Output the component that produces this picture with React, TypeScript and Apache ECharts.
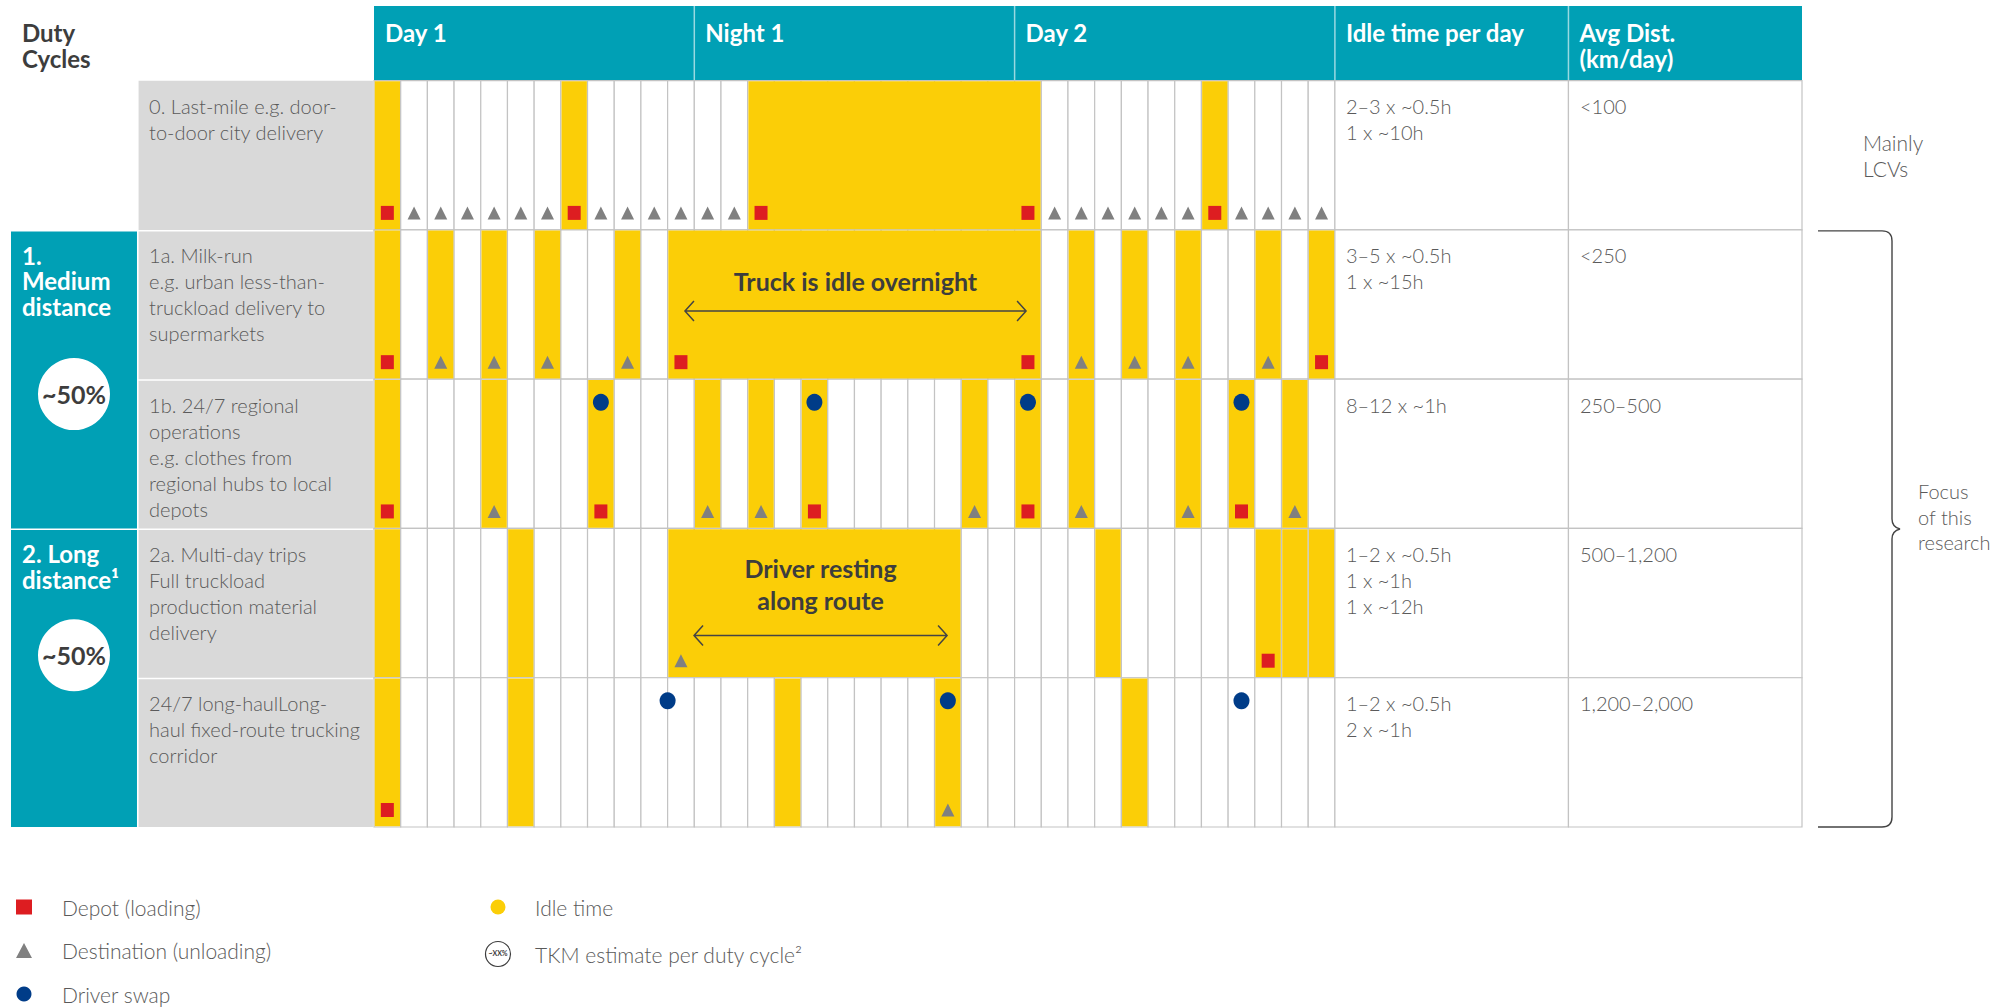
import React, { useEffect, useRef } from "react";
import * as echarts from "echarts";

// ---------- data ----------
const periods = ["Day 1", "Night 1", "Day 2"];
const hoursPerPeriod = 12;
const extraHeaders = ["Idle time per day", "Avg Dist.\n(km/day)"];
const cornerTitle = "Duty\nCycles";

const rowLabels = [
  "0. Last-mile e.g. door-\nto-door city delivery",
  "1a. Milk-run\ne.g. urban less-than-\ntruckload delivery to\nsupermarkets",
  "1b. 24/7 regional\noperations\ne.g. clothes from\nregional hubs to local\ndepots",
  "2a. Multi-day trips\nFull truckload\nproduction material\ndelivery",
  "24/7 long-haulLong-\nhaul fixed-route trucking\ncorridor",
];
const idleTimes = [
  "2–3 x ~0.5h\n1 x ~10h",
  "3–5 x ~0.5h\n1 x ~15h",
  "8–12 x ~1h",
  "1–2 x ~0.5h\n1 x ~1h\n1 x ~12h",
  "1–2 x ~0.5h\n2 x ~1h",
];
const avgDist = ["<100", "<250", "250–500", "500–1,200", "1,200–2,000"];

const groupLabels = ["1.\nMedium\ndistance", "2. Long\ndistance¹"];
const groupRows = [[1, 3], [3, 5]];
const groupShares = ["~50%", "~50%"];

// idle periods per row: [startHour, endHour]
const idleRow0 = [[0, 1], [7, 8], [14, 25], [31, 32]];
const idleRow1a = [[0, 1], [2, 3], [4, 5], [6, 7], [9, 10], [11, 25], [26, 27], [28, 29], [30, 31], [33, 34], [35, 36]];
const idleRow1b = [[0, 1], [4, 5], [8, 9], [12, 13], [14, 15], [16, 17], [22, 23], [24, 25], [26, 27], [30, 31], [32, 33], [34, 35]];
const idleRow2a = [[0, 1], [5, 6], [11, 22], [27, 28], [33, 34], [34, 35], [35, 36]];
const idleRow2b = [[0, 1], [5, 6], [15, 16], [21, 22], [28, 29]];
const idleRows = [idleRow0, idleRow1a, idleRow1b, idleRow2a, idleRow2b];

// events per row: hour slot index
const depotRows = [[0, 7, 14, 24, 31], [0, 11, 24, 35], [0, 8, 16, 24, 32], [33], [0]];
const destRows = [
  [1, 2, 3, 4, 5, 6, 8, 9, 10, 11, 12, 13, 25, 26, 27, 28, 29, 30, 32, 33, 34, 35],
  [2, 4, 6, 9, 26, 28, 30, 33],
  [4, 12, 14, 22, 26, 30, 34],
  [11],
  [21],
];
const swapRows = [[], [], [8, 16, 24, 32], [], [10.5, 21, 32]];

const annotationTexts = ["Truck is idle overnight", "Driver resting\nalong route"];
const annotationRows = [1, 3];
const annotationArrows = [[11.65, 24.43], [11.99, 21.47]];

// ---------- layout / style ----------
const FONT = "Lato, 'Noto Sans', sans-serif";
const TEAL = "#00a0b5";
const YELLOW = "#fbce07";
const RED = "#dd1d21";
const GREY_MARK = "#808080";
const BLUE = "#003c88";
const TEXT = "#5a5a5a";
const DARK = "#3d3d3d";
const LINE = "#c3c3c3";
const HOURS = periods.length * hoursPerPeriod;
const X_MIN = -13.6;
const X_MAX = 53.5;
const IDLE_X1 = 44.75;
const GROUP_X1 = -8.88;
const LABEL_X0 = -8.82;
const LABEL_X1 = -0.04;
const TOP_FRAC = 0.155;
const BOTTOM_FRAC = 0.886;
const tkmRowPos = [2.1, 3.85];
const annotationLayout = [
  { textY: 51, arrowY: 81, lineHeight: 30 },
  { textY: 40, arrowY: 107, lineHeight: 32 },
];

const svgIcon = (svg: string) => "image://data:image/svg+xml;charset=utf-8," + encodeURIComponent(svg);
const idleIcon = svgIcon(
  `<svg xmlns="http://www.w3.org/2000/svg" width="28" height="28" viewBox="0 0 28 28"><circle cx="14" cy="14" r="7.5" fill="${YELLOW}"/></svg>`
);
const tkmIcon = svgIcon(
  `<svg xmlns="http://www.w3.org/2000/svg" width="28" height="28" viewBox="0 0 28 28"><circle cx="14" cy="14" r="12.5" fill="#fff" stroke="#3c3c3c" stroke-width="1.2"/><text x="14" y="16.3" font-size="7" font-weight="bold" text-anchor="middle" font-family="Lato, sans-serif" fill="#3c3c3c">~XX%</text></svg>`
);

function markerData(rows: number[][], frac: number) {
  const out: number[][] = [];
  rows.forEach((cols, r) => cols.forEach((c) => out.push([c + 0.5, r + frac])));
  return out;
}

function rectBetween(api: any, x0: number, y0: number, x1: number, y1: number) {
  const a = api.coord([x0, y0]);
  const b = api.coord([x1, y1]);
  return { x: a[0], y: a[1], width: b[0] - a[0], height: b[1] - a[1] };
}

const bodyText = (text: string, x: number, y: number, extra: any = {}) => ({
  type: "text",
  style: {
    text,
    x,
    y,
    fill: TEXT,
    fontSize: 20,
    fontFamily: FONT,
    fontWeight: 300,
    lineHeight: 26,
    verticalAlign: "top",
    align: "left",
    ...extra,
  },
});

export default function App() {
  const ref = useRef<HTMLDivElement>(null);

  useEffect(() => {
    document.body.style.margin = "0";
    const chart = echarts.init(ref.current!, undefined, { renderer: "svg" });

    const renderHeader = (_p: any, api: any) => {
      const band = rectBetween(api, 0, -0.5, X_MAX, 0);
      const children: any[] = [{ type: "rect", shape: band, style: { fill: TEAL } }];
      const seps = [12, 24, 36, IDLE_X1];
      seps.forEach((s) => {
        const x = api.coord([s, 0])[0];
        children.push({
          type: "line",
          shape: { x1: x, y1: band.y, x2: x, y2: band.y + band.height },
          style: { stroke: "rgba(255,255,255,0.6)", lineWidth: 1.5 },
        });
      });
      const head = (text: string, x: number, fill: string) => ({
        type: "text",
        style: {
          text, x, y: band.y + 13, fill, fontSize: 24, fontFamily: FONT, fontWeight: 700,
          lineHeight: 26, verticalAlign: "top", align: "left",
        },
      });
      periods.forEach((p, i) => children.push(head(p, api.coord([i * hoursPerPeriod, 0])[0] + 11, "#fff")));
      children.push(head(extraHeaders[0], api.coord([HOURS, 0])[0] + 11, "#fff"));
      children.push(head(extraHeaders[1], api.coord([IDLE_X1, 0])[0] + 11, "#fff"));
      children.push(head(cornerTitle, api.coord([X_MIN, 0])[0] + 11, DARK));
      return { type: "group", children };
    };

    const renderRow = (_p: any, api: any) => {
      const r = api.value(0);
      const children: any[] = [];
      const lab = rectBetween(api, LABEL_X0, r, LABEL_X1, r + 1);
      children.push({
        type: "rect",
        shape: { x: lab.x, y: lab.y + (r > 0 ? 1.5 : 0), width: lab.width, height: lab.height - (r > 0 ? 1.5 : 0) },
        style: { fill: "#d9d9d9" },
      });
      children.push(bodyText(rowLabels[r], lab.x + 10.5, lab.y + 12.5));
      for (let c = 0; c < HOURS; c++) {
        children.push({
          type: "rect",
          shape: rectBetween(api, c, r, c + 1, r + 1),
          style: { fill: "#fff", stroke: LINE, lineWidth: 1.2 },
        });
      }
      const idle = rectBetween(api, HOURS, r, IDLE_X1, r + 1);
      const dist = rectBetween(api, IDLE_X1, r, X_MAX, r + 1);
      children.push({ type: "rect", shape: idle, style: { fill: "#fff", stroke: LINE, lineWidth: 1.2 } });
      children.push({ type: "rect", shape: dist, style: { fill: "#fff", stroke: LINE, lineWidth: 1.2 } });
      children.push(bodyText(idleTimes[r], idle.x + 11, idle.y + 12.5));
      children.push(bodyText(avgDist[r], dist.x + 11.5, dist.y + 12.5));
      return { type: "group", children };
    };

    const renderGroup = (_p: any, api: any) => {
      const g = api.value(0);
      const [a, b] = groupRows[g];
      const box = rectBetween(api, X_MIN, a, GROUP_X1, b);
      return {
        type: "group",
        children: [
          { type: "rect", shape: { x: box.x, y: box.y + 1.5, width: box.width, height: box.height - 1.5 }, style: { fill: TEAL } },
          {
            type: "text",
            style: {
              text: groupLabels[g], x: box.x + 11, y: box.y + 12.5, fill: "#fff", fontSize: 24,
              fontFamily: FONT, fontWeight: 700, lineHeight: 25.5, verticalAlign: "top", align: "left",
            },
          },
        ],
      };
    };

    const renderIdle = (_p: any, api: any) => {
      const r = api.value(0);
      const s = rectBetween(api, api.value(1), r, api.value(2), r + 1);
      return {
        type: "rect",
        shape: { x: s.x + 0.7, y: s.y + 0.7, width: s.width - 1.4, height: s.height - 1.4 },
        style: { fill: YELLOW },
      };
    };

    const renderAnnotation = (_p: any, api: any) => {
      const i = api.value(0);
      const r = annotationRows[i];
      const L = annotationLayout[i];
      const top = api.coord([0, r])[1];
      const [a0, a1] = annotationArrows[i];
      const xa = api.coord([a0, r])[0];
      const xb = api.coord([a1, r])[0];
      const ya = top + L.arrowY;
      const cx = (xa + xb) / 2;
      return {
        type: "group",
        children: [
          {
            type: "text",
            style: {
              text: annotationTexts[i], x: cx, y: top + L.textY - L.lineHeight / 2, fill: DARK,
              fontSize: 25, fontFamily: FONT, fontWeight: 700, lineHeight: L.lineHeight,
              align: "center", verticalAlign: "top",
            },
          },
          {
            type: "path",
            shape: {
              pathData: `M${xa} ${ya} L${xb} ${ya} M${xa + 9} ${ya - 10} L${xa} ${ya} L${xa + 9} ${ya + 10} M${xb - 9} ${ya - 10} L${xb} ${ya} L${xb - 9} ${ya + 10}`,
            },
            style: { fill: "none", stroke: "#444", lineWidth: 1.5 },
          },
        ],
      };
    };

    const renderScope = (_p: any, api: any) => {
      const right = api.coord([X_MAX, 0])[0];
      const yRow0 = api.coord([0, 0.5])[1];
      const yT = api.coord([0, 1])[1] + 1;
      const yB = api.coord([0, 5])[1];
      const ym = (yT + yB) / 2;
      const x0 = right + 16;
      const xv = right + 90;
      const xp = right + 98;
      const d = `M${x0} ${yT} H${xv - 10} Q${xv} ${yT} ${xv} ${yT + 10} V${ym - 10} Q${xv} ${ym - 2} ${xp} ${ym} Q${xv} ${ym + 2} ${xv} ${ym + 10} V${yB - 10} Q${xv} ${yB} ${xv - 10} ${yB} H${x0}`;
      return {
        type: "group",
        children: [
          { type: "path", shape: { pathData: d }, style: { fill: "none", stroke: "#444", lineWidth: 1.4 } },
          bodyText("Mainly\nLCVs", right + 61, yRow0, { verticalAlign: "middle", lineHeight: 26, fontSize: 21 }),
          bodyText("Focus\nof this\nresearch", right + 116, ym - 12, { verticalAlign: "middle", lineHeight: 25.5 }),
        ],
      };
    };

    const idleData: number[][] = [];
    idleRows.forEach((runs, r) => runs.forEach(([s, e]) => idleData.push([r, s, e])));

    const legendText = { fontFamily: FONT, fontWeight: 300, fontSize: 21, color: TEXT, lineHeight: 22 };

    chart.setOption({
      animation: false,
      tooltip: { show: false },
      grid: { left: 11, right: 212, top: 6, bottom: 181, containLabel: false },
      xAxis: { type: "value", min: X_MIN, max: X_MAX, show: false },
      yAxis: { type: "value", min: -0.5, max: 5, inverse: true, show: false },
      legend: [
        {
          data: ["Depot (loading)", "Destination (unloading)", "Driver swap"],
          orient: "vertical",
          left: 16,
          top: 896,
          height: 150,
          padding: 0,
          itemWidth: 16,
          itemHeight: 15,
          itemGap: 21.5,
          selectedMode: false,
          textStyle: { ...legendText, padding: [0, 0, 0, 25] },
        },
        {
          data: [
            { name: "Idle time", icon: idleIcon },
            { name: "TKM estimate per duty cycle²", icon: tkmIcon },
          ],
          orient: "vertical",
          left: 484,
          top: 893,
          height: 150,
          padding: 0,
          itemWidth: 28,
          itemHeight: 28,
          itemGap: 19,
          selectedMode: false,
          textStyle: { ...legendText, padding: [0, 0, 0, 18] },
        },
      ],
      series: [
        { type: "custom", name: "header", renderItem: renderHeader, data: [[0, 0]], clip: false, silent: true, z: 1 },
        { type: "custom", name: "rows", renderItem: renderRow, data: rowLabels.map((_, i) => [i, i]), clip: false, silent: true, z: 1 },
        { type: "custom", name: "groups", renderItem: renderGroup, data: groupLabels.map((_, i) => [i, i]), clip: false, silent: true, z: 1 },
        { type: "custom", name: "Idle time", renderItem: renderIdle, data: idleData, encode: { x: [1, 2], y: 0 }, clip: false, silent: true, z: 2, itemStyle: { color: YELLOW } },
        { type: "custom", name: "annotations", renderItem: renderAnnotation, data: annotationTexts.map((_, i) => [i, i]), clip: false, silent: true, z: 3 },
        { type: "custom", name: "scope", renderItem: renderScope, data: [[0, 0]], clip: false, silent: true, z: 1 },
        {
          type: "scatter", name: "Depot (loading)", symbol: "rect", symbolSize: [13, 14],
          itemStyle: { color: RED, opacity: 1 }, data: markerData(depotRows, BOTTOM_FRAC), z: 5, silent: true,
        },
        {
          type: "scatter", name: "Destination (unloading)", symbol: "triangle", symbolSize: [13, 13],
          itemStyle: { color: GREY_MARK, opacity: 1 }, data: markerData(destRows, BOTTOM_FRAC), z: 5, silent: true,
        },
        {
          type: "scatter", name: "Driver swap", symbol: "circle", symbolSize: [16, 17],
          itemStyle: { color: BLUE, opacity: 1 }, data: markerData(swapRows, TOP_FRAC), z: 5, silent: true,
        },
        {
          type: "scatter", name: "TKM estimate per duty cycle²", symbol: "circle", symbolSize: 72,
          itemStyle: { color: "#fff", opacity: 1 }, z: 5, silent: true,
          data: groupShares.map((_, i) => [(X_MIN + GROUP_X1) / 2, tkmRowPos[i]]),
          label: {
            show: true, position: "inside", formatter: (p: any) => groupShares[p.dataIndex],
            color: DARK, fontSize: 25, fontWeight: 700, fontFamily: FONT,
          },
        },
      ],
    });

    return () => chart.dispose();
  }, []);

  return <div ref={ref} style={{ position: "absolute", left: 0, top: 0, width: 2014, height: 1008 }} />;
}
